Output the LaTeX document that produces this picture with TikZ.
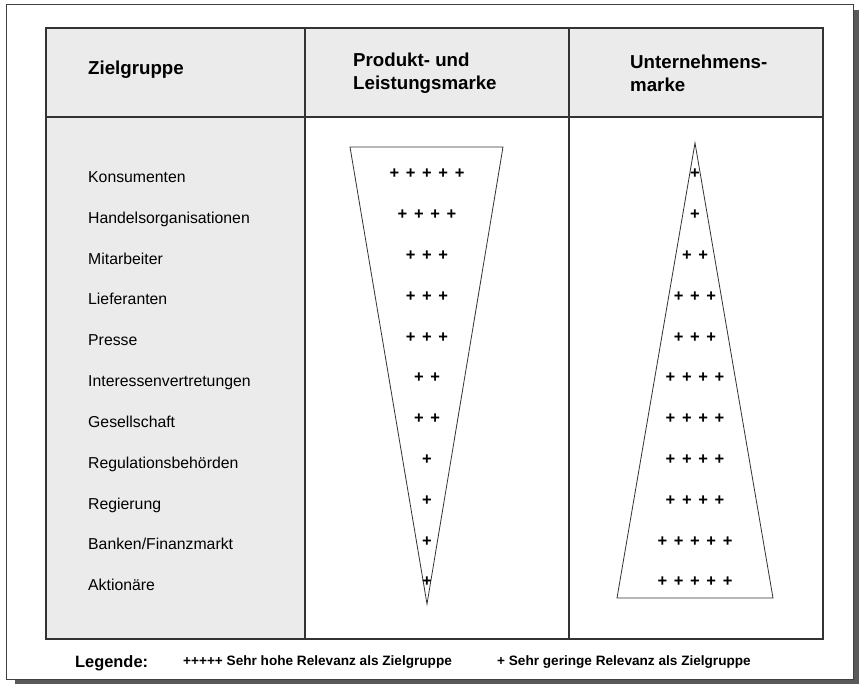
\documentclass[tikz,border=0pt]{standalone}
\usepackage{fontspec}
\setmainfont{Liberation Sans}

\definecolor{kopfgrau}{gray}{0.92}
\definecolor{schatten}{gray}{0.35}

\tikzset{
  gruppe/.style={anchor=base west, inner sep=0pt, font=\fontsize{15.8}{18}\selectfont},
  kopf/.style={anchor=west, align=left, inner sep=0pt, font=\fontsize{18.7}{23}\selectfont\bfseries},
  pluszeichen/.style={inner sep=0pt, font=\fontsize{16.5}{18}\selectfont\bfseries},
  legende/.style={anchor=base west, inner sep=0pt, font=\fontsize{13.6}{16}\selectfont\bfseries},
  linie/.style={line width=1.1pt, draw=black!80},
}

\begin{document}
\begin{tikzpicture}[x=1pt,y=-1pt]
\useasboundingbox (0,0) rectangle (859,684);

% Rahmen mit Schatten
\fill[schatten] (15,10) rectangle (859,684);
\draw[fill=white, line width=0.9pt, draw=black!75] (6,4) rectangle (853,679);

% graue Flaechen
\fill[kopfgrau] (46,28) rectangle (823,117);
\fill[kopfgrau] (46,117) rectangle (305,639);

% Tabelle
\draw[linie] (46,28) rectangle (823,639);
\draw[linie] (46,117) -- (823,117);
\draw[linie] (305,28) -- (305,639);
\draw[linie] (569,28) -- (569,639);

% Kopfzeile
\node[kopf] (zielgruppe) at (88,70) {Zielgruppe};
\node[kopf] (produkt) at (353,73.5) {Produkt- und\\Leistungsmarke};
\node[kopf] (unternehmen) at (630,73.5) {Unternehmens-\\marke};

% Dreiecke
\draw[line width=0.8pt, draw=black!80] (350,147) -- (503,147) -- (427,604) -- cycle;
\draw[line width=0.8pt, draw=black!80] (695,143) -- (773,598) -- (617,598) -- cycle;

% Zielgruppen mit Relevanz (Produkt/Leistung, Unternehmen)
\foreach \name/\links/\rechts [count=\i from 0] in {
  Konsumenten/5/1,
  Handelsorganisationen/4/1,
  Mitarbeiter/3/2,
  Lieferanten/3/3,
  Presse/3/3,
  Interessenvertretungen/2/4,
  Gesellschaft/2/4,
  Regulationsbehörden/1/4,
  Regierung/1/4,
  Banken\slash Finanzmarkt/1/5,
  Aktionäre/1/5}{
  \pgfmathsetmacro{\zeile}{177+40.8*\i}
  \node[gruppe] (gruppe\i) at (88,\zeile+5.6) {\name};
  \foreach \k in {1,...,\links}{
    \node[pluszeichen] (pl\i-\k) at ({427+16.3*(\k-(\links+1)/2)},\zeile-3) {+};
  }
  \foreach \k in {1,...,\rechts}{
    \node[pluszeichen] (pr\i-\k) at ({695+16.3*(\k-(\rechts+1)/2)},\zeile-3) {+};
  }
}

% Legende
\node[legende, font=\fontsize{16.4}{18}\selectfont\bfseries] (legende) at (75,667) {Legende:};
\node[legende] (hoch) at (183,665) {+++++\ Sehr hohe Relevanz als Zielgruppe};
\node[legende] (gering) at (497,665) {+ Sehr geringe Relevanz als Zielgruppe};

\end{tikzpicture}
\end{document}
